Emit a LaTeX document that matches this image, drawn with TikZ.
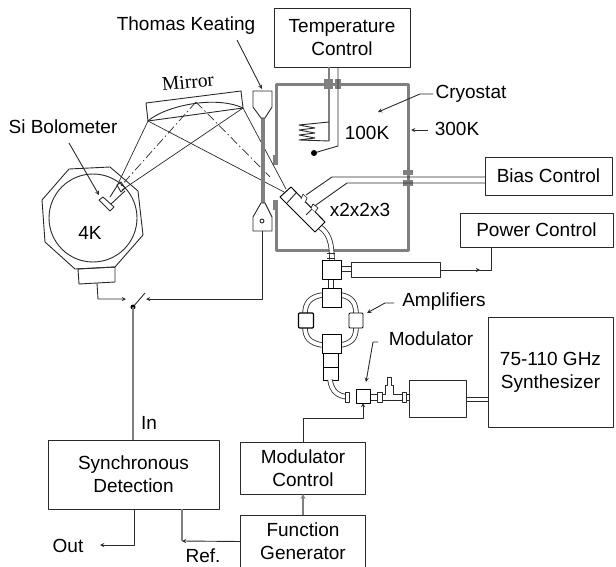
\documentclass[tikz,border=0pt]{standalone}
\usepackage{fontspec}
\setmainfont{Liberation Sans}
\newfontfamily\mirrorfont{Liberation Serif}
\usetikzlibrary{positioning}
\definecolor{inkline}{HTML}{2A2A2A}
\definecolor{wallgray}{HTML}{808080}
\tikzset{
    ctrlbox/.style={draw=inkline, line width=0.9pt, inner sep=0pt, outer sep=0pt, align=center},
    lbl/.style={inner sep=0pt, outer sep=0pt, align=center},
    part/.style={draw=black, fill=white, line width=0.95pt, inner sep=0pt, outer sep=0pt},
    wire/.style={draw=inkline, line width=0.9pt},
    graywire/.style={draw=wallgray, line width=1.2pt},
    wall/.style={draw=wallgray, line width=3pt},
    guide/.style={draw=inkline, double=white, double distance=3.8pt, line width=0.8pt},
    seal/.style={fill=wallgray, draw=none},
}
\begin{document}
\begin{tikzpicture}[x=1pt, y=-1pt, line join=round, >=stealth, font=\fontsize{19}{23}\selectfont]
    \useasboundingbox (0,0) rectangle (616,567);

    % control boxes
    \node[ctrlbox, minimum width=136, minimum height=59] (temp) at (342,37.5) {Temperature\\Control};
    \node[ctrlbox, minimum width=127, minimum height=38] (bias) at (548.5,176) {Bias Control};
    \node[ctrlbox, minimum width=153, minimum height=34] (power) at (536.5,230) {Power Control};
    \node[ctrlbox, minimum width=125, minimum height=110] (synth) at (550.5,372) {75-110 GHz\\Synthesizer};
    \node[ctrlbox, minimum width=171, minimum height=69] (detect) at (133.5,474.5) {Synchronous\\Detection};
    \node[ctrlbox, minimum width=125, minimum height=52] (modctrl) at (303,468) {Modulator\\Control};
    \node[ctrlbox, minimum width=125, minimum height=53] (funcgen) at (303,541.5) {Function\\Generator};

    % cryostat walls
    \draw[wall] (276,165) -- (276,84.5) -- (408,84.5) -- (408,250) -- (276,250) -- (276,200);
    \fill[seal] (273,155) rectangle (278,165);
    \fill[seal] (273,200) rectangle (278,210);
    \fill[seal] (324,79) rectangle (333,89);
    \fill[seal] (335,79) rectangle (341,89);
    \fill[seal] (403,170) rectangle (413,175);
    \fill[seal] (403,180) rectangle (413,186);

    % heater and sensor
    \coordinate (heatertop) at (329,122);
    \coordinate (heaterend) at (329,141);
    \coordinate (sensorturn) at (338,146);
    \draw[graywire] (temp.south -| heatertop) -- (heaterend);
    \draw[wire] (heatertop) -- (299,125) -- (315,128) -- (299,130) -- (315,133) -- (299,135) -- (315,138) -- (299,140) -- (heaterend);
    \draw[wire] (temp.south -| sensorturn) -- (sensorturn) -- (314,153);
    \fill[black] (314,153) circle (3pt);

    % bolometer dewar
    \draw[wire] (69,169) -- (110,167) -- (138,191) -- (143,235) -- (115,267) -- (75,269) -- (45,242) -- (42,200) -- cycle;
    \draw[wire] (93,218) circle (44);
    \draw[wire] (78,269) -- (115,267) -- (115,282) -- (79,284) -- cycle;
    \draw[wire] (99,200) -- (103,197) -- (114,207) -- (110,211) -- cycle;
    \draw[wire] (110,197) -- (117,186);
    \draw[wire] (111,204) -- (125,191);
    \draw[wire] (117,185) -- (121,182) -- (125,188) -- (121,192) -- cycle;

    % mirror and beams
    \coordinate (mirleft) at (148,121);
    \coordinate (mirright) at (243,108);
    \coordinate (mirtop) at (196,102);
    \draw[wire] (146,103) -- (241,91) -- (mirright) -- (mirleft) -- cycle;
    \draw[wire] (mirleft) .. controls (165,106) and (215,95) .. (mirright);
    \draw[wire, line width=0.7pt] (mirleft) -- (117,186);
    \draw[wire, line width=0.7pt] (mirright) -- (122,190);
    \draw[wire, line width=0.7pt] (mirleft) -- (284,192);
    \draw[wire, line width=0.7pt] (mirright) -- (286,189);
    \draw[wire, line width=0.7pt, dash pattern=on 9pt off 3pt on 1.5pt off 3pt] (mirtop) -- (120,187);
    \draw[wire, line width=0.7pt, dash pattern=on 9pt off 3pt on 1.5pt off 3pt] (mirtop) -- (270,177);

    % thomas keating horns
    \draw[wall, line width=3.5pt] (263,118) -- (263,203);
    \draw[wire] (253,91) -- (272,91) -- (272,107) -- (265,118) -- (261,118) -- (253,107) -- cycle;
    \draw[wire, fill=white] (265,203) -- (272,217) -- (272,231) -- (253,231) -- (253,217) -- (261,203) -- cycle;
    \draw[wire] (262,221) circle (2);

    % multiplier chain
    \draw[wire] (306,195) -- (332,177) -- (bias.west |- 332,177);
    \draw[wire] (316,205) -- (347,183) -- (bias.west |- 347,183);
    \draw[guide] (320,227) .. controls (328,233) and (332,240) .. (332,262);
    \draw[part] (280,197) -- (291,187) -- (325,222) -- (315,232) -- cycle;
    \draw[wire] (287,203) -- (296,193);
    \draw[wire] (306,215) -- (316,205);
    \draw[wire, fill=white, line width=0.7pt] (301,199) -- (303,194) -- (307,198) -- (305,203);
    \draw[wire, fill=white, line width=0.7pt] (311,208) -- (313,204) -- (318,208) -- (315,212);

    % mixer and amplifiers
    \draw[wire] (327,253) -- (335,253);
    \draw[wire] (327,258) -- (335,258);
    \draw[guide] (331,278) -- (331,289);
    \draw[guide] (340,269) -- (351,269);
    \draw[guide] (322,295) .. controls (310,297) and (305,303) .. (305,314);
    \draw[guide] (341,295) .. controls (352,297) and (356,303) .. (356,314);
    \draw[guide] (305,327) .. controls (305,338) and (310,343) .. (322,345);
    \draw[guide] (356,327) .. controls (356,338) and (352,343) .. (341,345);
    \node[part, minimum width=19, minimum height=19] (mixer) at (331.5,269.5) {};
    \node[part, minimum width=19, minimum height=19] (ampsplit) at (331.5,297.5) {};
    \node[part, minimum width=15, minimum height=15, rounded corners=1pt, line width=1.2pt] (ampleft) at (306,320.5) {};
    \node[part, minimum width=14, minimum height=15, rounded corners=1pt] (ampright) at (356,320.5) {};
    \node[part, minimum width=19, minimum height=19] (ampjoin) at (331.5,343.5) {};
    \node[part, minimum width=15, minimum height=14] (stagea) at (330.5,360) {};
    \node[part, minimum width=15, minimum height=13] (stageb) at (330.5,373.5) {};
    \draw[wire, fill=white] (351,262) -- (440,262) -- (440,277) -- (351,277) -- cycle;

    % modulator line
    \draw[guide] (330,380) .. controls (332,392) and (338,396) .. (348,397);
    \draw[wire, fill=white] (345,392) rectangle (349,402);
    \draw[wire] (370,394) -- (377,394);
    \draw[wire] (370,400) -- (377,400);
    \draw[wire, fill=white] (377,392) rectangle (382,402);
    \draw[wire] (382,394) -- (385,394) -- (385,385) -- (387,385) -- (387,377) -- (391,377) -- (391,385) -- (393,385) -- (393,394) -- (402,394);
    \draw[wire] (382,400) -- (402,400);
    \draw[wire, fill=white] (402,392) rectangle (406,402);
    \draw[wire] (406,394) -- (409,394);
    \draw[wire] (406,400) -- (409,400);
    \node[part, minimum width=14, minimum height=14] (modulator) at (363,396) {};
    \node[ctrlbox, minimum width=57, minimum height=37] (source) at (437.5,398.5) {};
    \draw[wire] (source.east |- 0,397) -- (synth.west |- 0,397);
    \draw[wire] (source.east |- 0,401) -- (synth.west |- 0,401);

    % signal wiring
    \coordinate (swpivot) at (133,307);
    \draw[wire, ->] (97,283) -- (98,299) -- (126,299);
    \draw[wire, ->] (262,231) -- (262,299) -- (146,299);
    \draw[wire] (swpivot) -- (145,293);
    \fill[black] (swpivot) circle (2.5pt);
    \draw[graywire] (swpivot) -- (swpivot |- detect.north);
    \draw[wire, ->] (440,270) -- (480,270);
    \draw[wire] (478,270) -- (491,270) -- (power.south -| 491,270);
    \draw[wire, ->] (modctrl.north -| 303,418) -- (303,418) -- (363,418) -- (modulator.south);
    \draw[graywire, ->] (funcgen.north) -- (modctrl.south);
    \draw[wire, ->] (134,509) -- (134,545) -- (100,545);
    \draw[graywire] (182,509) -- (182,541);
    \draw[wire, ->] (funcgen.west) -- (182,541);

    % labels
    \node[lbl] (keating) at (186,26) {Thomas Keating};
    \node[lbl, rotate=5, font=\mirrorfont\fontsize{19.5}{23}\selectfont] (mirror) at (188,82) {Mirror};
    \node[lbl] (bolo) at (63,127) {Si Bolometer};
    \node[lbl] (fourk) at (90,233) {4K};
    \node[lbl] (hundredk) at (367,133) {100K};
    \node[lbl] (cryo) at (471,94) {Cryostat};
    \node[lbl] (threehundredk) at (457,129) {300K};
    \node[lbl] (mult) at (360,210) {x2x2x3};
    \node[lbl] (amps) at (444,302) {Amplifiers};
    \node[lbl] (modlabel) at (431,339) {Modulator};
    \node[lbl] (inlabel) at (149,423) {In};
    \node[lbl] (outlabel) at (68,546) {Out};
    \node[lbl] (reflabel) at (203,556) {Ref.};

    % pointers
    \draw[wire, ->] (237,40) -- (262,89);
    \draw[wire, ->] (69,143) -- (99,195);
    \draw[wire, ->] (433,94) -- (420,94) -- (378,112);
    \draw[wire, ->] (428,130) -- (411,130);
    \draw[wire, ->] (394,303) -- (385,303) -- (367,313);
    \draw[wire, ->] (378,342) -- (373,342) -- (366,382);
\end{tikzpicture}
\end{document}
